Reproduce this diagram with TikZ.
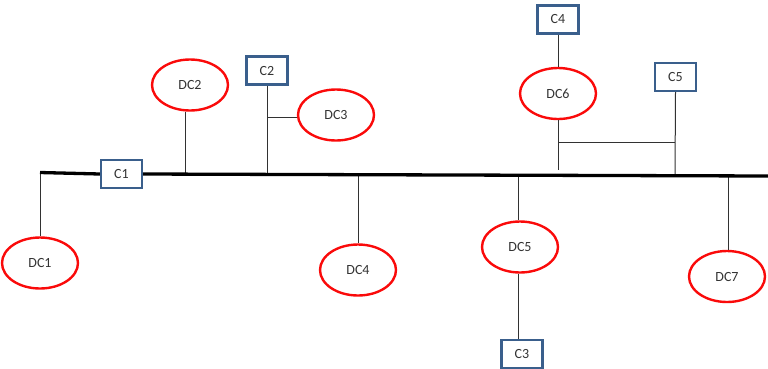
\documentclass[tikz,border=0pt]{standalone}
\usepackage{fontspec}
\setmainfont{Carlito}
\usetikzlibrary{shapes.geometric}
\definecolor{boxblue}{RGB}{58,95,140}
\definecolor{dcred}{RGB}{250,10,10}
\definecolor{wire}{RGB}{50,50,50}
\begin{document}
\begin{tikzpicture}[x=1pt,y=-1pt,
  dc/.style={ellipse,draw=dcred,line width=2.4pt,minimum width=76pt,minimum height=51pt,inner sep=0pt,font=\fontsize{14}{16}\selectfont,text=black!80},
  cbox/.style={rectangle,draw=boxblue,line width=2.1pt,minimum width=41pt,minimum height=28pt,inner sep=0pt,font=\fontsize{14}{16}\selectfont,text=black!80},
  bus/.style={line width=3.3pt,black},
  wireline/.style={line width=1pt,wire}]
\useasboundingbox (0,0) rectangle (768,368);
% nodes
\node[dc] (dc1) at (40,263) {DC1};
\node[dc] (dc2) at (190,85) {DC2};
\node[dc] (dc3) at (336,115) {DC3};
\node[dc] (dc4) at (358,270) {DC4};
\node[dc] (dc5) at (520,247) {DC5};
\node[dc] (dc6) at (558,93.5) {DC6};
\node[dc] (dc7) at (727,276.5) {DC7};
\node[cbox] (c1) at (121.5,174) {C1};
\node[cbox] (c2) at (267,70.5) {C2};
\node[cbox] (c3) at (522,354) {C3};
\node[cbox] (c4) at (558,19.5) {C4};
\node[cbox] (c5) at (675.5,77) {C5};
% bus coordinates
\coordinate (bl) at (40,172.5);
\coordinate (br) at (768,176);
\coordinate (f2) at (185,174.1);
\coordinate (f3) at (267,174.4);
\coordinate (f4) at (358,174.7);
\coordinate (f5) at (518,175.2);
\coordinate (f6) at (558,170);
\coordinate (f7) at (675,175.7);
\coordinate (f8) at (728,175.9);
\coordinate (j3) at (267,117);
\coordinate (j6) at (558,142);
\coordinate (j7) at (675,142);
% connectors
\draw[wireline] (bl) -- (dc1.north);
\draw[wireline] (f2) -- (f2 |- dc2.south);
\draw[wireline] (c2.south) -- (f3);
\draw[wireline] (j3) -- (j3 -| dc3.west);
\draw[wireline] (f4) -- (dc4.north);
\draw[wireline] (f5) -- (f5 |- dc5.north);
\draw[wireline] (f5 |- dc5.south) -- (f5 |- c3.north);
\draw[wireline] (c4.south) -- (dc6.north);
\draw[wireline] (dc6.south) -- (f6);
\draw[wireline] (j6) -- (j7);
\draw[wireline] (c5.south) -- (f7);
\draw[wireline] (f8) -- (f8 |- dc7.north);
% bus
\draw[bus] (bl) -- (c1.west);
\draw[bus] (c1.east) -- (br);
\end{tikzpicture}
\end{document}
